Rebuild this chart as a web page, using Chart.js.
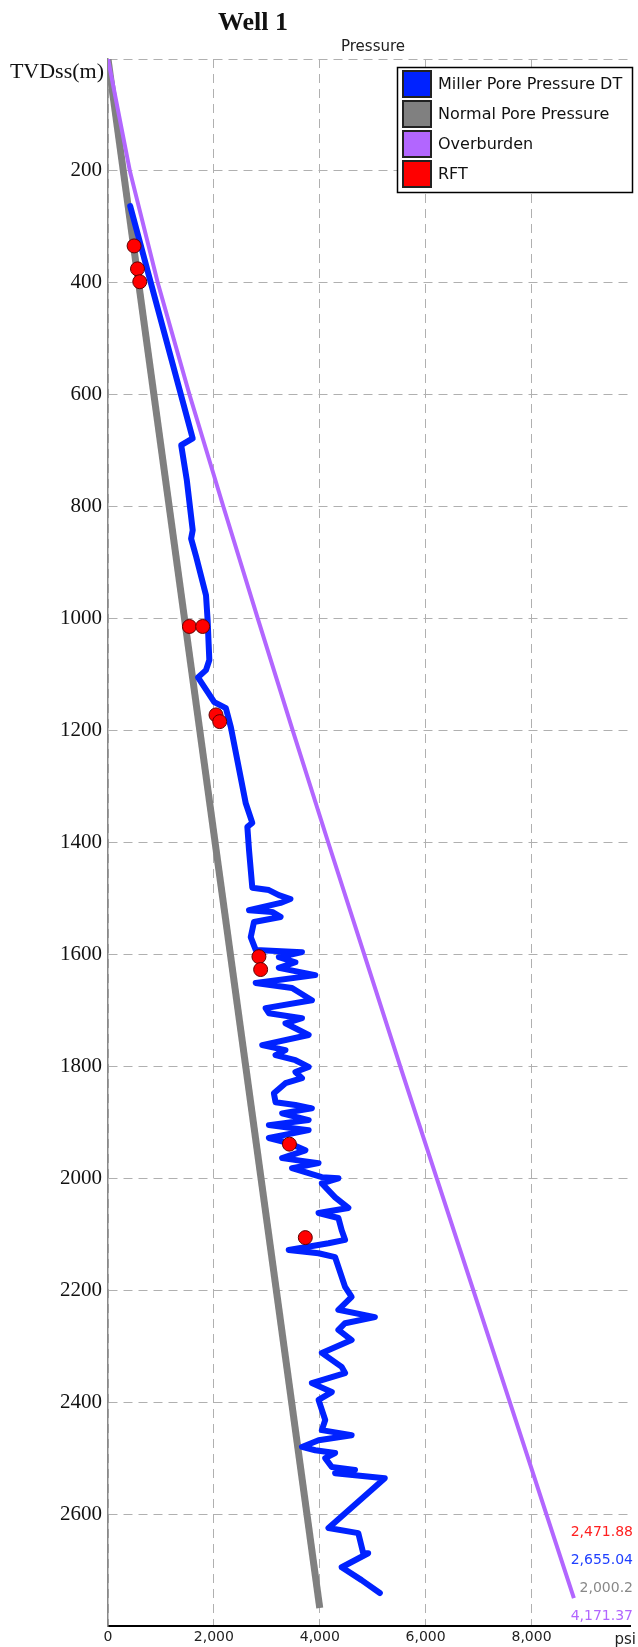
<!DOCTYPE html>
<html>
<head>
<meta charset="utf-8">
<title>Well 1</title>
<script src="https://cdn.jsdelivr.net/npm/chart.js@4.4.1/dist/chart.umd.min.js"></script>
<style>
  body { margin: 0; background: #fff; }
  canvas { display: block; }
</style>
</head>
<body>
<canvas id="wellChart" width="638" height="1647"></canvas>
<script>
// depth ticks (m) and pressure ticks (psi)
var depthTicks = [0, 200, 400, 600, 800, 1000, 1200, 1400, 1600, 1800, 2000, 2200, 2400, 2600];
var pressureTicks = [0, 2000, 4000, 6000, 8000];

var seriesNames = ["Miller Pore Pressure DT", "Normal Pore Pressure", "Overburden", "RFT"];
var seriesColors = ["#0022ff", "#808080", "#b266ff", "#ff0000"];
var endValues = ["2,471.88", "2,655.04", "2,000.2", "4,171.37"];
var endColors = ["#ff2020", "#2040ff", "#888888", "#b266ff"];

var millerDepth = [263, 678, 690, 752, 842, 857, 889, 958, 1003, 1074, 1092, 1105, 1149, 1160, 1194,
    1330, 1365, 1372, 1414, 1481, 1485, 1494, 1501, 1508, 1521, 1524, 1533, 1542, 1569, 1592,
    1596, 1605, 1614, 1624, 1637, 1651, 1660, 1682, 1696, 1705, 1714, 1723, 1744, 1762, 1771,
    1780, 1789, 1801, 1810, 1821, 1830, 1848, 1864, 1869, 1875, 1884, 1896, 1905, 1914, 1928,
    1937, 1950, 1964, 1973, 1982, 1998, 2000, 2009, 2034, 2053, 2062, 2071, 2093, 2110, 2116,
    2128, 2134, 2141, 2194, 2212, 2235, 2248, 2259, 2271, 2289, 2312, 2337, 2348, 2366, 2382,
    2396, 2432, 2450, 2459, 2468, 2480, 2486, 2491, 2500, 2516, 2521, 2527, 2536, 2625, 2634,
    2670, 2670, 2695, 2718, 2741];
var millerPressure = [420, 1600, 1383, 1488, 1600, 1570, 1664, 1851, 1882, 1914, 1851, 1700, 2007, 2227, 2321,
    2602, 2726, 2632, 2664, 2726, 3039, 3227, 3446, 3259, 2664, 3101, 3259, 2758, 2696, 2790,
    3664, 3227, 3540, 3227, 3915, 2790, 3476, 3851, 2977, 3039, 3664, 3352, 3790, 2913, 3352,
    3165, 3540, 3790, 3540, 3664, 3352, 3133, 3165, 3540, 3851, 3289, 3790, 3039, 3790, 3039,
    3414, 3728, 3289, 3977, 3476, 4039, 4352, 4039, 4290, 4540, 3977, 4352, 4414, 4478, 4165,
    3414, 3977, 4290, 4478, 4602, 4352, 5041, 4478, 4352, 4602, 4039, 4414, 4478, 3851, 4227,
    3977, 4103, 4039, 4602, 3977, 3664, 3915, 4290, 4103, 4227, 4666, 4290, 5228, 4165, 4728,
    4821, 4915, 4414, 4790, 5135];

var normalDepth = [0, 2768];
var normalPressure = [0, 4000];

var overburdenDepth = [0, 200, 400, 600, 800, 1000, 1200, 1400, 1600, 1800, 2000, 2200, 2400, 2600, 2750];
var overburdenPressure = [0, 413, 940, 1540, 2180, 2830, 3490, 4160, 4840, 5520, 6210, 6900, 7590, 8280, 8800];

var rftDepth = [334, 375, 398, 1014, 1014, 1172, 1184, 1604, 1627, 1939, 2106];
var rftPressure = [493, 557, 600, 1538, 1788, 2040, 2110, 2851, 2883, 3427, 3727];

function pairs(xs, ys) {
    return xs.map(function (v, i) { return {x: v, y: ys[i]}; });
}

var textPlugin = {
    id: 'wellText',
    afterDraw: function (chart) {
        var ctx = chart.ctx;
        ctx.save();
        ctx.textBaseline = 'middle';

        ctx.fillStyle = '#111';
        ctx.font = 'bold 26px "Liberation Serif"';
        ctx.textAlign = 'center';
        ctx.fillText('Well 1', 253, 23);

        ctx.font = '15px "DejaVu Sans"';
        ctx.fillStyle = '#222';
        ctx.fillText('Pressure', 373, 47);

        ctx.font = '22px "Liberation Serif"';
        ctx.fillStyle = '#111';
        ctx.textAlign = 'right';
        ctx.fillText('TVDss(m)', 104, 72);

        ctx.font = '15px "DejaVu Sans"';
        ctx.fillStyle = '#222';
        ctx.fillText('psi', 636, 1640);

        // legend
        ctx.fillStyle = '#fff';
        ctx.fillRect(397, 67, 235, 125);
        ctx.strokeStyle = '#000';
        ctx.lineWidth = 1.5;
        ctx.strokeRect(397.5, 67.5, 235, 125);
        ctx.font = '16px "DejaVu Sans"';
        ctx.textAlign = 'left';
        seriesNames.forEach(function (name, i) {
            var y = 71 + i * 30;
            ctx.fillStyle = seriesColors[i];
            ctx.fillRect(403, y, 28, 26);
            ctx.strokeStyle = '#222';
            ctx.lineWidth = 2;
            ctx.strokeRect(403, y, 28, 26);
            ctx.fillStyle = '#111';
            ctx.fillText(name, 438, y + 14);
        });

        // last values
        ctx.font = '14px "DejaVu Sans"';
        ctx.textAlign = 'right';
        endValues.forEach(function (t, i) {
            ctx.fillStyle = endColors[i];
            ctx.fillText(t, 633, 1532 + i * 28);
        });
        ctx.restore();
    }
};

new Chart(document.getElementById('wellChart'), {
    type: 'scatter',
    data: {
        datasets: [
            {
                label: seriesNames[3],
                data: pairs(rftPressure, rftDepth),
                pointRadius: 7,
                pointBackgroundColor: seriesColors[3],
                pointBorderColor: '#600000',
                pointBorderWidth: 1,
                showLine: false,
                order: 0
            },
            {
                label: seriesNames[0],
                data: pairs(millerPressure, millerDepth),
                showLine: true,
                borderColor: seriesColors[0],
                borderWidth: 6,
                borderJoinStyle: 'round',
                borderCapStyle: 'round',
                pointRadius: 0,
                order: 1
            },
            {
                label: seriesNames[2],
                data: pairs(overburdenPressure, overburdenDepth),
                showLine: true,
                borderColor: seriesColors[2],
                borderWidth: 4,
                pointRadius: 0,
                order: 2
            },
            {
                label: seriesNames[1],
                data: pairs(normalPressure, normalDepth),
                showLine: true,
                borderColor: seriesColors[1],
                borderWidth: 7,
                pointRadius: 0,
                order: 3
            }
        ]
    },
    options: {
        responsive: false,
        animation: false,
        layout: { padding: { top: 59, right: 0, left: 0, bottom: 0 } },
        plugins: { legend: { display: false }, tooltip: { enabled: false }, title: { display: false } },
        scales: {
            x: {
                type: 'linear',
                min: 0,
                max: 9860,
                afterBuildTicks: function (s) { s.ticks = pressureTicks.map(function (v) { return {value: v}; }); },
                afterFit: function (s) { s.height = 21; s.paddingLeft = 0; s.paddingRight = 0; },
                grid: { color: '#b0b0b0', lineWidth: 1, drawTicks: false },
                border: { color: '#000', width: 2, dash: [9, 6] },
                ticks: {
                    padding: 3,
                    color: '#222',
                    font: { family: 'DejaVu Sans', size: 14 },
                    callback: function (v) { return v.toLocaleString('en-US'); }
                }
            },
            y: {
                type: 'linear',
                reverse: true,
                min: 0,
                max: 2800,
                afterBuildTicks: function (s) { s.ticks = depthTicks.map(function (v) { return {value: v}; }); },
                afterFit: function (s) { s.width = 108; s.paddingTop = 0; s.paddingBottom = 0; },
                grid: { color: '#b0b0b0', lineWidth: 1, drawTicks: false },
                border: { color: '#888', width: 1.5, dash: [9, 6] },
                ticks: {
                    padding: 6,
                    color: '#111',
                    font: { family: 'Liberation Serif', size: 21 },
                    callback: function (v) { return v === 0 ? '' : String(v); }
                }
            }
        }
    },
    plugins: [textPlugin]
});
</script>
</body>
</html>
